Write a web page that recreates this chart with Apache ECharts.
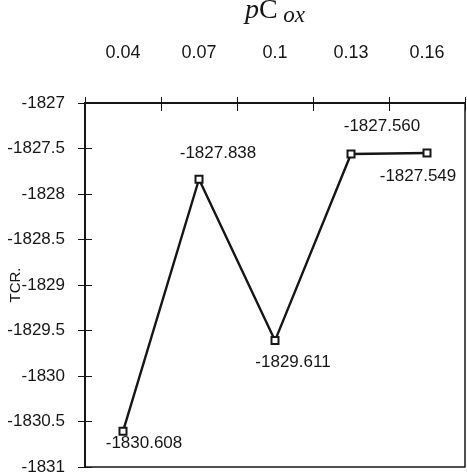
<!DOCTYPE html>
<html>
<head>
<meta charset="utf-8">
<script src="https://cdn.jsdelivr.net/npm/echarts@6/dist/echarts.min.js"></script>
<style>
html,body{margin:0;padding:0;background:#fff;}
#chart{width:467px;height:476px;}
</style>
</head>
<body>
<div id="chart"></div>
<script>
const categories = ['0.04', '0.07', '0.1', '0.13', '0.16'];
const tcrValues = [-1830.608, -1827.838, -1829.611, -1827.560, -1827.549];
const yTicks = { min: -1831, max: -1827, interval: 0.5 };
const labelOffsets = [[21, 12], [19, -26], [18, 22], [31, -28], [-9, 23]];

const chart = echarts.init(document.getElementById('chart'));
const font = 'Liberation Sans, Arial, sans-serif';
const ink = '#161616';

const seriesData = tcrValues.map((v, i) => ({
  value: v,
  label: { offset: labelOffsets[i] }
}));

chart.setOption({
  backgroundColor: '#ffffff',
  animation: false,
  grid: { left: 85, right: 2, top: 103, bottom: 9, show: true, borderColor: ink, borderWidth: 1.5, containLabel: false, outerBoundsMode: 'none' },
  xAxis: [{
    type: 'category',
    data: categories,
    position: 'top',
    boundaryGap: true,
    name: '{p|p}{c|C}{sub| ox}',
    nameLocation: 'middle',
    nameGap: 76,
    nameMoveOverlap: false,
    nameTextStyle: {
      rich: {
        p: { fontFamily: 'Liberation Serif, serif', fontStyle: 'italic', fontSize: 28, color: ink },
        c: { fontFamily: 'Liberation Serif, serif', fontSize: 28, color: ink },
        sub: { fontFamily: 'Liberation Serif, serif', fontStyle: 'italic', fontSize: 23, color: ink, padding: [9, 0, 0, 0] }
      }
    },
    axisLine: { show: true, lineStyle: { color: ink, width: 2 } },
    axisTick: { show: true, length: 6, lineStyle: { color: ink, width: 1 } },
    axisLabel: { margin: 41, fontFamily: font, fontSize: 18, color: ink },
    splitLine: { show: false }
  }, {
    type: 'category',
    data: categories,
    position: 'top',
    boundaryGap: true,
    axisLine: { show: false },
    axisTick: { show: true, inside: true, length: 8, lineStyle: { color: ink, width: 1 } },
    axisLabel: { show: false },
    splitLine: { show: false }
  }],
  yAxis: [{
    type: 'value',
    position: 'left',
    min: yTicks.min,
    max: yTicks.max,
    interval: yTicks.interval,
    name: 'TCR.',
    nameLocation: 'middle',
    nameGap: 62,
    nameRotate: 90,
    nameMoveOverlap: false,
    nameTextStyle: { fontFamily: font, fontSize: 15, color: ink },
    axisLine: { show: true, lineStyle: { color: ink, width: 2 } },
    axisTick: { show: true, length: 7, lineStyle: { color: ink, width: 1 } },
    axisLabel: { margin: 20, fontFamily: font, fontSize: 17, color: ink, formatter: v => String(v) },
    splitLine: { show: false }
  }, {
    type: 'value',
    position: 'left',
    min: yTicks.min,
    max: yTicks.max,
    interval: yTicks.interval,
    axisLine: { show: false },
    axisTick: { show: true, inside: true, length: 7, lineStyle: { color: ink, width: 1 } },
    axisLabel: { show: false },
    splitLine: { show: false }
  }],
  series: [{
    type: 'line',
    xAxisIndex: 0,
    yAxisIndex: 0,
    data: seriesData,
    symbol: 'rect',
    symbolSize: 7,
    lineStyle: { color: ink, width: 2.4 },
    itemStyle: { color: '#ffffff', borderColor: ink, borderWidth: 2 },
    label: {
      show: true,
      position: 'inside',
      fontFamily: font,
      fontSize: 17,
      color: ink,
      formatter: p => p.value.toFixed(3)
    }
  }]
});
</script>
</body>
</html>
